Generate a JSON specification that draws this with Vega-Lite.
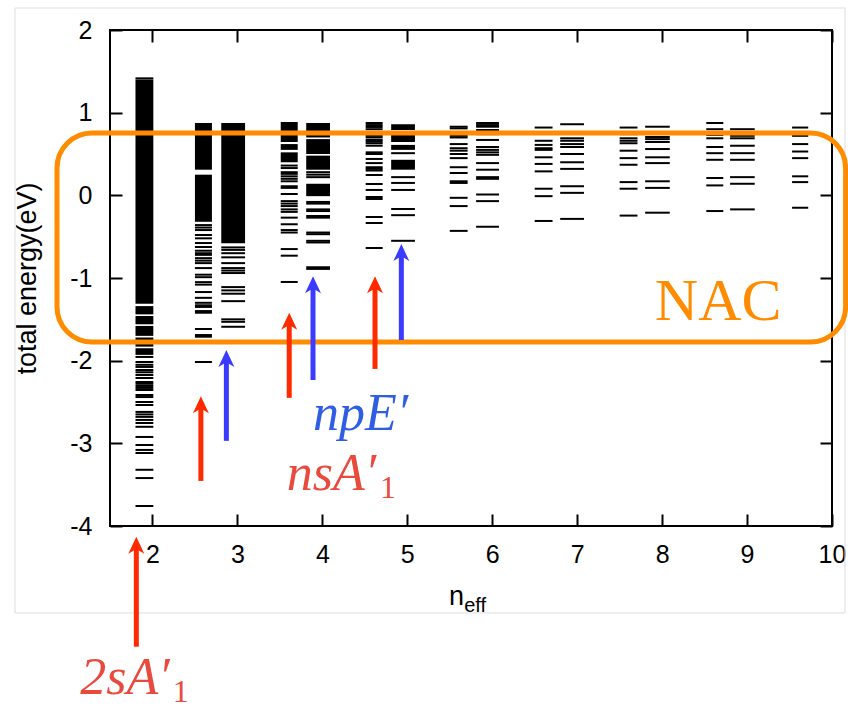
{
  "$schema": "https://vega.github.io/schema/vega-lite/v6.json",
  "width": 722,
  "height": 496,
  "autosize": {"type": "none"},
  "padding": {"left": 110, "top": 30, "right": 16, "bottom": 185},
  "background": "white",
  "config": {
    "view": {"stroke": "black", "strokeWidth": 2},
    "axis": {"domain": false, "grid": false, "tickColor": "black", "tickWidth": 2, "tickSize": -12, "labelFont": "Liberation Sans", "labelFontSize": 25, "labelColor": "black", "labelFlush": false, "labelOverlap": false, "titleFont": "Liberation Sans", "titleFontWeight": "normal", "titleColor": "black"}
  },
  "datasets": {
    "cols": [
      {"c": "2", "n1": 1.80, "n2": 2.01},
      {"c": "3a", "n1": 2.50, "n2": 2.70}, {"c": "3b", "n1": 2.81, "n2": 3.09},
      {"c": "4a", "n1": 3.51, "n2": 3.71}, {"c": "4b", "n1": 3.81, "n2": 4.09},
      {"c": "5a", "n1": 4.51, "n2": 4.71}, {"c": "5b", "n1": 4.81, "n2": 5.09},
      {"c": "6a", "n1": 5.50, "n2": 5.71}, {"c": "6b", "n1": 5.81, "n2": 6.08},
      {"c": "7a", "n1": 6.50, "n2": 6.71}, {"c": "7b", "n1": 6.80, "n2": 7.08},
      {"c": "8a", "n1": 7.50, "n2": 7.71}, {"c": "8b", "n1": 7.80, "n2": 8.09},
      {"c": "9a", "n1": 8.52, "n2": 8.72}, {"c": "9b", "n1": 8.80, "n2": 9.09},
      {"c": "10a", "n1": 9.53, "n2": 9.72}
    ],
    "blocks": [
      {"c": "2", "e": -1.31, "e2": 1.40},
      {"c": "2", "e": -1.44, "e2": -1.34},
      {"c": "2", "e": -1.56, "e2": -1.46},
      {"c": "2", "e": -1.70, "e2": -1.58},
      {"c": "2", "e": -1.83, "e2": -1.72},
      {"c": "2", "e": -1.93, "e2": -1.85},
      {"c": "3a", "e": 0.31, "e2": 0.875},
      {"c": "3a", "e": -0.32, "e2": 0.25},
      {"c": "3b", "e": -0.58, "e2": 0.875},
      {"c": "4a", "e": 0.77, "e2": 0.887},
      {"c": "4a", "e": 0.645, "e2": 0.755},
      {"c": "4a", "e": 0.55, "e2": 0.62},
      {"c": "4a", "e": 0.40, "e2": 0.52},
      {"c": "4b", "e": 0.70, "e2": 0.875},
      {"c": "4b", "e": 0.50, "e2": 0.68},
      {"c": "4b", "e": 0.31, "e2": 0.48},
      {"c": "4b", "e": -0.01, "e2": 0.14},
      {"c": "5b", "e": 0.79, "e2": 0.86},
      {"c": "5b", "e": 0.645, "e2": 0.73},
      {"c": "5b", "e": 0.55, "e2": 0.61},
      {"c": "5b", "e": 0.31, "e2": 0.43}
    ],
    "levels": [
      {"c": "2", "e": 1.415},
      {"c": "2", "e": -1.955}, {"c": "2", "e": -2.016}, {"c": "2", "e": -2.05}, {"c": "2", "e": -2.076}, {"c": "2", "e": -2.113}, {"c": "2", "e": -2.14}, {"c": "2", "e": -2.173}, {"c": "2", "e": -2.21}, {"c": "2", "e": -2.258}, {"c": "2", "e": -2.28}, {"c": "2", "e": -2.306}, {"c": "2", "e": -2.33}, {"c": "2", "e": -2.355}, {"c": "2", "e": -2.415}, {"c": "2", "e": -2.44}, {"c": "2", "e": -2.50}, {"c": "2", "e": -2.536}, {"c": "2", "e": -2.62}, {"c": "2", "e": -2.65}, {"c": "2", "e": -2.68}, {"c": "2", "e": -2.717}, {"c": "2", "e": -2.754}, {"c": "2", "e": -2.80}, {"c": "2", "e": -2.923}, {"c": "2", "e": -3.02}, {"c": "2", "e": -3.08}, {"c": "2", "e": -3.117}, {"c": "2", "e": -3.32}, {"c": "2", "e": -3.42}, {"c": "2", "e": -3.758},
      {"c": "3a", "e": -0.36}, {"c": "3a", "e": -0.39}, {"c": "3a", "e": -0.42}, {"c": "3a", "e": -0.48}, {"c": "3a", "e": -0.52}, {"c": "3a", "e": -0.577}, {"c": "3a", "e": -0.625}, {"c": "3a", "e": -0.67}, {"c": "3a", "e": -0.70}, {"c": "3a", "e": -0.72}, {"c": "3a", "e": -0.76}, {"c": "3a", "e": -0.79}, {"c": "3a", "e": -0.82}, {"c": "3a", "e": -0.88}, {"c": "3a", "e": -0.96}, {"c": "3a", "e": -0.99}, {"c": "3a", "e": -1.05}, {"c": "3a", "e": -1.08}, {"c": "3a", "e": -1.17}, {"c": "3a", "e": -1.24}, {"c": "3a", "e": -1.30}, {"c": "3a", "e": -1.33}, {"c": "3a", "e": -1.35}, {"c": "3a", "e": -1.40}, {"c": "3a", "e": -1.42}, {"c": "3a", "e": -1.617}, {"c": "3a", "e": -1.69}, {"c": "3a", "e": -1.71}, {"c": "3a", "e": -2.016},
      {"c": "3b", "e": -0.63}, {"c": "3b", "e": -0.66}, {"c": "3b", "e": -0.70}, {"c": "3b", "e": -0.75}, {"c": "3b", "e": -0.82}, {"c": "3b", "e": -0.88}, {"c": "3b", "e": -0.91}, {"c": "3b", "e": -0.94}, {"c": "3b", "e": -1.11}, {"c": "3b", "e": -1.15}, {"c": "3b", "e": -1.19}, {"c": "3b", "e": -1.28}, {"c": "3b", "e": -1.50}, {"c": "3b", "e": -1.53}, {"c": "3b", "e": -1.59},
      {"c": "4a", "e": 0.36}, {"c": "4a", "e": 0.33}, {"c": "4a", "e": 0.28}, {"c": "4a", "e": 0.26}, {"c": "4a", "e": 0.23}, {"c": "4a", "e": 0.20}, {"c": "4a", "e": 0.17}, {"c": "4a", "e": 0.11}, {"c": "4a", "e": 0.09}, {"c": "4a", "e": 0.016}, {"c": "4a", "e": -0.07}, {"c": "4a", "e": -0.10}, {"c": "4a", "e": -0.13}, {"c": "4a", "e": -0.17}, {"c": "4a", "e": -0.20}, {"c": "4a", "e": -0.27}, {"c": "4a", "e": -0.35}, {"c": "4a", "e": -0.42}, {"c": "4a", "e": -0.45}, {"c": "4a", "e": -0.65}, {"c": "4a", "e": -0.73}, {"c": "4a", "e": -1.048},
      {"c": "4b", "e": 0.28}, {"c": "4b", "e": 0.25}, {"c": "4b", "e": 0.22}, {"c": "4b", "e": -0.08}, {"c": "4b", "e": -0.10}, {"c": "4b", "e": -0.17}, {"c": "4b", "e": -0.19}, {"c": "4b", "e": -0.25}, {"c": "4b", "e": -0.27}, {"c": "4b", "e": -0.45}, {"c": "4b", "e": -0.47}, {"c": "4b", "e": -0.55}, {"c": "4b", "e": -0.57}, {"c": "4b", "e": -0.87}, {"c": "4b", "e": -0.89},
      {"c": "5a", "e": 0.875}, {"c": "5a", "e": 0.85}, {"c": "5a", "e": 0.827}, {"c": "5a", "e": 0.80}, {"c": "5a", "e": 0.75}, {"c": "5a", "e": 0.72}, {"c": "5a", "e": 0.70}, {"c": "5a", "e": 0.67}, {"c": "5a", "e": 0.65}, {"c": "5a", "e": 0.63}, {"c": "5a", "e": 0.60}, {"c": "5a", "e": 0.52}, {"c": "5a", "e": 0.50}, {"c": "5a", "e": 0.44}, {"c": "5a", "e": 0.39}, {"c": "5a", "e": 0.34}, {"c": "5a", "e": 0.32}, {"c": "5a", "e": 0.30}, {"c": "5a", "e": 0.246}, {"c": "5a", "e": 0.137}, {"c": "5a", "e": 0.065}, {"c": "5a", "e": -0.02}, {"c": "5a", "e": -0.044}, {"c": "5a", "e": -0.262}, {"c": "5a", "e": -0.335}, {"c": "5a", "e": -0.637},
      {"c": "5b", "e": 0.51}, {"c": "5b", "e": 0.22}, {"c": "5b", "e": 0.15}, {"c": "5b", "e": 0.065}, {"c": "5b", "e": -0.165}, {"c": "5b", "e": -0.24}, {"c": "5b", "e": -0.55},
      {"c": "6a", "e": 0.83}, {"c": "6a", "e": 0.81}, {"c": "6a", "e": 0.72}, {"c": "6a", "e": 0.70}, {"c": "6a", "e": 0.62}, {"c": "6a", "e": 0.57}, {"c": "6a", "e": 0.54}, {"c": "6a", "e": 0.50}, {"c": "6a", "e": 0.45}, {"c": "6a", "e": 0.34}, {"c": "6a", "e": 0.27}, {"c": "6a", "e": 0.17}, {"c": "6a", "e": 0.15}, {"c": "6a", "e": -0.03}, {"c": "6a", "e": -0.13}, {"c": "6a", "e": -0.43},
      {"c": "6b", "e": 0.875}, {"c": "6b", "e": 0.85}, {"c": "6b", "e": 0.83}, {"c": "6b", "e": 0.79}, {"c": "6b", "e": 0.74}, {"c": "6b", "e": 0.67}, {"c": "6b", "e": 0.585}, {"c": "6b", "e": 0.55}, {"c": "6b", "e": 0.52}, {"c": "6b", "e": 0.49}, {"c": "6b", "e": 0.39}, {"c": "6b", "e": 0.31}, {"c": "6b", "e": 0.22}, {"c": "6b", "e": 0.20}, {"c": "6b", "e": 0.01}, {"c": "6b", "e": -0.07}, {"c": "6b", "e": -0.38},
      {"c": "7a", "e": 0.82}, {"c": "7a", "e": 0.66}, {"c": "7a", "e": 0.61}, {"c": "7a", "e": 0.57}, {"c": "7a", "e": 0.55}, {"c": "7a", "e": 0.46}, {"c": "7a", "e": 0.38}, {"c": "7a", "e": 0.29}, {"c": "7a", "e": 0.08}, {"c": "7a", "e": -0.01}, {"c": "7a", "e": -0.31},
      {"c": "7b", "e": 0.86}, {"c": "7b", "e": 0.69}, {"c": "7b", "e": 0.66}, {"c": "7b", "e": 0.62}, {"c": "7b", "e": 0.585}, {"c": "7b", "e": 0.50}, {"c": "7b", "e": 0.40}, {"c": "7b", "e": 0.32}, {"c": "7b", "e": 0.11}, {"c": "7b", "e": 0.03}, {"c": "7b", "e": -0.285},
      {"c": "8a", "e": 0.82}, {"c": "8a", "e": 0.74}, {"c": "8a", "e": 0.69}, {"c": "8a", "e": 0.66}, {"c": "8a", "e": 0.63}, {"c": "8a", "e": 0.54}, {"c": "8a", "e": 0.45}, {"c": "8a", "e": 0.37}, {"c": "8a", "e": 0.16}, {"c": "8a", "e": 0.08}, {"c": "8a", "e": -0.245},
      {"c": "8b", "e": 0.83}, {"c": "8b", "e": 0.706}, {"c": "8b", "e": 0.68}, {"c": "8b", "e": 0.645}, {"c": "8b", "e": 0.56}, {"c": "8b", "e": 0.46}, {"c": "8b", "e": 0.39}, {"c": "8b", "e": 0.17}, {"c": "8b", "e": 0.09}, {"c": "8b", "e": -0.21},
      {"c": "9a", "e": 0.875}, {"c": "9a", "e": 0.80}, {"c": "9a", "e": 0.73}, {"c": "9a", "e": 0.69}, {"c": "9a", "e": 0.585}, {"c": "9a", "e": 0.51}, {"c": "9a", "e": 0.43}, {"c": "9a", "e": 0.21}, {"c": "9a", "e": 0.12}, {"c": "9a", "e": -0.19},
      {"c": "9b", "e": 0.80}, {"c": "9b", "e": 0.72}, {"c": "9b", "e": 0.69}, {"c": "9b", "e": 0.60}, {"c": "9b", "e": 0.51}, {"c": "9b", "e": 0.43}, {"c": "9b", "e": 0.22}, {"c": "9b", "e": 0.14}, {"c": "9b", "e": -0.17},
      {"c": "10a", "e": 0.82}, {"c": "10a", "e": 0.72}, {"c": "10a", "e": 0.62}, {"c": "10a", "e": 0.53}, {"c": "10a", "e": 0.45}, {"c": "10a", "e": 0.23}, {"c": "10a", "e": 0.16}, {"c": "10a", "e": -0.15}
    ],
    "arrows": [
      {"x": 1.81, "base": -5.46, "tip": -4.13, "stem": -4.25, "c": "red"},
      {"x": 2.57, "base": -3.455, "tip": -2.43, "stem": -2.55, "c": "red"},
      {"x": 2.87, "base": -2.97, "tip": -1.87, "stem": -1.99, "c": "blue"},
      {"x": 3.61, "base": -2.45, "tip": -1.42, "stem": -1.54, "c": "red"},
      {"x": 3.89, "base": -2.234, "tip": -0.98, "stem": -1.10, "c": "blue"},
      {"x": 4.62, "base": -2.10, "tip": -0.98, "stem": -1.10, "c": "red"},
      {"x": 4.93, "base": -1.75, "tip": -0.59, "stem": -0.71, "c": "blue"}
    ],
    "labels": [
      {"t": "npE′", "x": 3.89, "y": -2.84, "c": "lblue"},
      {"t": "nsA′", "x": 3.58, "y": -3.56, "c": "lred"},
      {"t": "2sA′", "x": 1.15, "y": -6.03, "c": "lred"}
    ],
    "subs": [
      {"t": "1", "x": 4.68, "y": -3.66, "c": "lred"},
      {"t": "1", "x": 2.24, "y": -6.13, "c": "lred"}
    ],
    "box": [{"x1": 0.876, "x2": 10.16, "y1": 0.754, "y2": -1.774}],
    "border": [{"x1": 0.382, "x2": 10.153, "y1": 2.266, "y2": -5.052}]
  },
  "resolve": {"axis": {"x": "independent", "y": "independent"}},
  "layer": [
    {
      "data": {"name": "border"},
      "mark": {"type": "rect", "fillOpacity": 0, "stroke": "#dddddd", "strokeWidth": 1},
      "encoding": {
        "x": {"field": "x1", "type": "quantitative", "scale": {"domain": [1.5, 10], "nice": false, "zero": false}, "axis": null},
        "x2": {"field": "x2"},
        "y": {"field": "y1", "type": "quantitative", "scale": {"domain": [-4, 2], "nice": false, "zero": false}, "axis": null},
        "y2": {"field": "y2"}
      }
    },
    {
      "data": {"name": "blocks"},
      "transform": [{"lookup": "c", "from": {"data": {"name": "cols"}, "key": "c", "fields": ["n1", "n2"]}}],
      "mark": {"type": "rect", "color": "black"},
      "encoding": {
        "x": {"field": "n1", "type": "quantitative", "scale": {"domain": [1.5, 10], "nice": false, "zero": false},
          "axis": {"orient": "bottom", "values": [2, 3, 4, 5, 6, 7, 8, 9, 10], "title": null, "labelPadding": 28, "labelFontSize": 25}},
        "x2": {"field": "n2"},
        "y": {"field": "e", "type": "quantitative", "scale": {"domain": [-4, 2], "nice": false, "zero": false},
          "axis": {"orient": "left", "values": [-4, -3, -2, -1, 0, 1, 2], "title": "total energy(eV)", "titleFontSize": 27, "titleX": -83, "titleY": 248, "titleAngle": -90, "titleAlign": "center", "titleBaseline": "middle", "labelPadding": 30, "labelFontSize": 25, "labelExpr": "replace(datum.label, '−', '-')"}},
        "y2": {"field": "e2"}
      }
    },
    {
      "data": {"name": "levels"},
      "transform": [{"lookup": "c", "from": {"data": {"name": "cols"}, "key": "c", "fields": ["n1", "n2"]}}],
      "mark": {"type": "rule", "color": "black", "strokeWidth": 2},
      "encoding": {
        "x": {"field": "n1", "type": "quantitative", "scale": {"domain": [1.5, 10], "nice": false, "zero": false}, "axis": null},
        "x2": {"field": "n2"},
        "y": {"field": "e", "type": "quantitative", "scale": {"domain": [-4, 2], "nice": false, "zero": false}, "axis": null}
      }
    },
    {
      "data": {"name": "box"},
      "mark": {"type": "rect", "fillOpacity": 0, "stroke": "#FF8C00", "strokeWidth": 5, "cornerRadius": 35},
      "encoding": {
        "x": {"field": "x1", "type": "quantitative", "scale": {"domain": [1.5, 10], "nice": false, "zero": false}, "axis": null},
        "x2": {"field": "x2"},
        "y": {"field": "y1", "type": "quantitative", "scale": {"domain": [-4, 2], "nice": false, "zero": false}, "axis": null},
        "y2": {"field": "y2"}
      }
    },
    {
      "data": {"name": "arrows"},
      "mark": {"type": "rule", "strokeWidth": 5},
      "encoding": {
        "x": {"field": "x", "type": "quantitative", "scale": {"domain": [1.5, 10], "nice": false, "zero": false}, "axis": null},
        "y": {"field": "base", "type": "quantitative", "scale": {"domain": [-4, 2], "nice": false, "zero": false}, "axis": null},
        "y2": {"field": "stem"},
        "color": {"field": "c", "type": "nominal", "scale": {"domain": ["red", "blue", "lred", "lblue"], "range": ["#FF2A00", "#3B3BFF", "#E84A3E", "#2F5DE3"]}, "legend": null}
      }
    },
    {
      "data": {"name": "arrows"},
      "mark": {"type": "point", "filled": true, "opacity": 1, "shape": "M0,0 L0.47,1 L0,0.72 L-0.47,1 Z", "size": 1156, "strokeWidth": 0},
      "encoding": {
        "x": {"field": "x", "type": "quantitative", "scale": {"domain": [1.5, 10], "nice": false, "zero": false}, "axis": null},
        "y": {"field": "tip", "type": "quantitative", "scale": {"domain": [-4, 2], "nice": false, "zero": false}, "axis": null},
        "color": {"field": "c", "type": "nominal", "scale": {"domain": ["red", "blue", "lred", "lblue"], "range": ["#FF2A00", "#3B3BFF", "#E84A3E", "#2F5DE3"]}, "legend": null}
      }
    },
    {
      "data": {"name": "labels"},
      "mark": {"type": "text", "font": "Liberation Serif", "fontStyle": "italic", "fontSize": 52, "align": "left", "baseline": "alphabetic"},
      "encoding": {
        "x": {"field": "x", "type": "quantitative", "scale": {"domain": [1.5, 10], "nice": false, "zero": false}, "axis": null},
        "y": {"field": "y", "type": "quantitative", "scale": {"domain": [-4, 2], "nice": false, "zero": false}, "axis": null},
        "text": {"field": "t"},
        "color": {"field": "c", "type": "nominal", "scale": {"domain": ["red", "blue", "lred", "lblue"], "range": ["#FF2A00", "#3B3BFF", "#E84A3E", "#2F5DE3"]}, "legend": null}
      }
    },
    {
      "data": {"name": "subs"},
      "mark": {"type": "text", "font": "Liberation Serif", "fontSize": 32, "align": "left", "baseline": "alphabetic"},
      "encoding": {
        "x": {"field": "x", "type": "quantitative", "scale": {"domain": [1.5, 10], "nice": false, "zero": false}, "axis": null},
        "y": {"field": "y", "type": "quantitative", "scale": {"domain": [-4, 2], "nice": false, "zero": false}, "axis": null},
        "text": {"field": "t"},
        "color": {"field": "c", "type": "nominal", "scale": {"domain": ["red", "blue", "lred", "lblue"], "range": ["#FF2A00", "#3B3BFF", "#E84A3E", "#2F5DE3"]}, "legend": null}
      }
    },
    {
      "data": {"values": [{}]},
      "mark": {"type": "text", "text": "NAC", "font": "Liberation Serif", "fontSize": 60, "color": "#FF8C00", "align": "center", "baseline": "alphabetic"},
      "encoding": {
        "x": {"datum": 8.66, "type": "quantitative", "scale": {"domain": [1.5, 10], "nice": false, "zero": false}, "axis": null},
        "y": {"datum": -1.51, "type": "quantitative", "scale": {"domain": [-4, 2], "nice": false, "zero": false}, "axis": null}
      }
    },
    {
      "data": {"values": [{}]},
      "mark": {"type": "text", "text": "n", "font": "Liberation Sans", "fontSize": 27, "color": "black", "align": "left", "baseline": "alphabetic"},
      "encoding": {
        "x": {"datum": 5.49, "type": "quantitative", "scale": {"domain": [1.5, 10], "nice": false, "zero": false}, "axis": null},
        "y": {"datum": -4.955, "type": "quantitative", "scale": {"domain": [-4, 2], "nice": false, "zero": false}, "axis": null}
      }
    },
    {
      "data": {"values": [{}]},
      "mark": {"type": "text", "text": "eff", "font": "Liberation Sans", "fontSize": 20, "color": "black", "align": "left", "baseline": "alphabetic"},
      "encoding": {
        "x": {"datum": 5.67, "type": "quantitative", "scale": {"domain": [1.5, 10], "nice": false, "zero": false}, "axis": null},
        "y": {"datum": -5.04, "type": "quantitative", "scale": {"domain": [-4, 2], "nice": false, "zero": false}, "axis": null}
      }
    },
    {
      "data": {"name": "cols"},
      "mark": {"type": "point", "opacity": 0},
      "encoding": {
        "x": {"field": "n1", "type": "quantitative", "scale": {"domain": [1.5, 10], "nice": false, "zero": false},
          "axis": {"orient": "top", "values": [2, 3, 4, 5, 6, 7, 8, 9, 10], "labels": false, "title": null}},
        "y": {"datum": 0, "type": "quantitative", "scale": {"domain": [-4, 2], "nice": false, "zero": false},
          "axis": {"orient": "right", "values": [-4, -3, -2, -1, 0, 1, 2], "labels": false, "title": null}}
      }
    }
  ]
}
